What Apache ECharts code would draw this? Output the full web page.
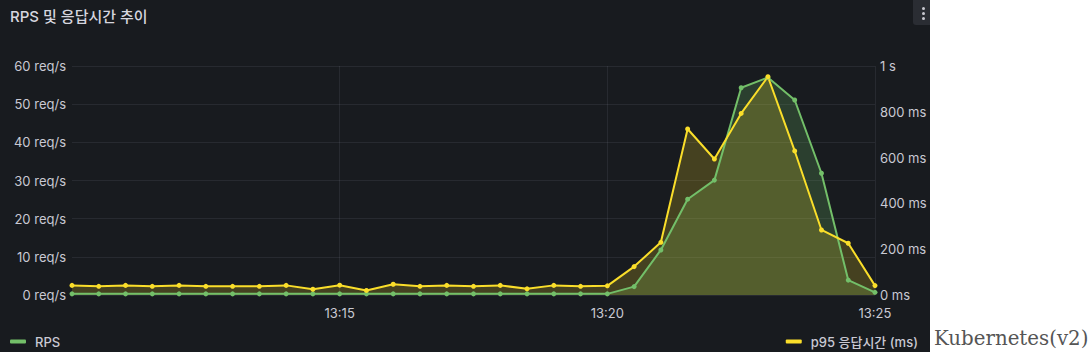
<!DOCTYPE html>
<html>
<head>
<meta charset="utf-8">
<script src="https://cdn.jsdelivr.net/npm/echarts@6/dist/echarts.min.js"></script>
<style>
  html, body { margin: 0; padding: 0; background: #ffffff; width: 1092px; height: 359px; overflow: hidden; }
  #panel { position: absolute; left: 0; top: 0; width: 930px; height: 352px; background: #181b1f; }
  #chart { position: absolute; left: 0; top: 0; width: 930px; height: 352px; }
  #menu { position: absolute; left: 913px; top: 0; width: 17px; height: 25px; background: #2a2d33; border-radius: 0 0 0 3px; }
  .dot { position: absolute; left: 9px; width: 3px; height: 3px; border-radius: 50%; background: #c8c8d0; }
  #side { position: absolute; left: 934px; top: 325px; font-family: "DejaVu Serif", serif; font-size: 19.8px; color: #555555; line-height: 28px; white-space: nowrap; }
</style>
</head>
<body>
<div id="panel"></div>
<div id="chart"></div>
<div id="menu"><div class="dot" style="top:7px"></div><div class="dot" style="top:12px"></div><div class="dot" style="top:17px"></div></div>
<div id="side">Kubernetes(v2)</div>
<script>
// ---- data ----
const title = 'RPS 및 응답시간 추이';
const seriesNames = ['RPS', 'p95 응답시간 (ms)'];
const times = [
  '13:10:00','13:10:30','13:11:00','13:11:30','13:12:00','13:12:30','13:13:00','13:13:30',
  '13:14:00','13:14:30','13:15:00','13:15:30','13:16:00','13:16:30','13:17:00','13:17:30',
  '13:18:00','13:18:30','13:19:00','13:19:30','13:20:00','13:20:30','13:21:00','13:21:30',
  '13:22:00','13:22:30','13:23:00','13:23:30','13:24:00','13:24:30','13:25:00'
];
const rps = [
  0.3,0.3,0.3,0.3,0.3,0.3,0.3,0.3,
  0.3,0.3,0.3,0.3,0.3,0.3,0.3,0.3,
  0.3,0.3,0.3,0.3,0.3,2.2,11.8,25.1,
  30.1,54.3,57.0,51.1,31.9,3.9,0.7
];
const p95ms = [
  42,38,42,38,42,38,38,38,
  42,25,43,20,47,38,42,38,
  42,27,42,38,40,124,230,725,
  594,793,953,629,284,226,41
];
const xTickLabels = ['13:15','13:20','13:25'];
const leftTicks = [0,10,20,30,40,50,60];
const rightTicks = [0,200,400,600,800,1000];

// ---- helpers ----
const baseMin = 13 * 60 + 10;
function toMin(t) { const p = t.split(':').map(Number); return p[0] * 60 + p[1] + p[2] / 60 - baseMin; }
function fmtTime(v) { const m = Math.round(v + baseMin); const h = Math.floor(m / 60), mm = m % 60; return h + ':' + String(mm).padStart(2, '0'); }
const xs = times.map(toMin);

const txt = '#c9c9d3';
const font = 'Inter, "Noto Sans CJK KR", sans-serif';
const green = '#73bf69', yellow = '#fade2a';

const chart = echarts.init(document.getElementById('chart'), null, { renderer: 'svg' });
chart.setOption({
  animation: false,
  backgroundColor: 'transparent',
  title: {
    text: title, left: 5, top: 4,
    textStyle: { color: '#d6d6df', fontSize: 15, fontWeight: 500, fontFamily: font }
  },
  legend: [
    { data: [seriesNames[0]], left: 5, top: 330, icon: 'roundRect', itemWidth: 16, itemHeight: 4, itemGap: 8,
      textStyle: { color: txt, fontSize: 13, fontWeight: 500, fontFamily: font, padding: [0, 0, 0, 4] } },
    { data: [seriesNames[1]], right: 7, top: 330, icon: 'roundRect', itemWidth: 16, itemHeight: 4, itemGap: 8,
      textStyle: { color: txt, fontSize: 13, fontWeight: 500, fontFamily: font, padding: [0, 0, 0, 4] } }
  ],
  grid: { left: 72, right: 55, top: 66, bottom: 57, containLabel: false },
  xAxis: {
    type: 'value', min: 0, max: 15, interval: 5,
    axisLine: { show: false }, axisTick: { show: false },
    axisLabel: {
      color: txt, fontSize: 13, fontFamily: font, margin: 11, showMinLabel: false,
      formatter: v => { const s = fmtTime(v); return xTickLabels.includes(s) ? s : ''; }
    },
    splitLine: { show: true, showMinLine: false, lineStyle: { color: 'rgba(204,204,220,0.09)', width: 1 } }
  },
  yAxis: [
    {
      type: 'value', min: leftTicks[0], max: leftTicks[leftTicks.length - 1], interval: 10,
      axisLine: { show: false }, axisTick: { show: false },
      axisLabel: { color: txt, fontSize: 13, fontFamily: font, margin: 6, formatter: v => v + ' req/s' },
      splitLine: { show: true, lineStyle: { color: 'rgba(204,204,220,0.09)', width: 1 } }
    },
    {
      type: 'value', min: rightTicks[0], max: rightTicks[rightTicks.length - 1], interval: 200,
      axisLine: { show: false }, axisTick: { show: false },
      axisLabel: { color: txt, fontSize: 13, fontFamily: font, margin: 5, formatter: v => v >= 1000 ? (v / 1000) + ' s' : v + ' ms' },
      splitLine: { show: false }
    }
  ],
  series: [
    {
      name: seriesNames[0], type: 'line', yAxisIndex: 0,
      data: xs.map((x, i) => [x, rps[i]]),
      symbol: 'circle', symbolSize: 5, showSymbol: true,
      lineStyle: { color: green, width: 2 }, itemStyle: { color: green },
      areaStyle: { color: green, opacity: 0.22 }
    },
    {
      name: seriesNames[1], type: 'line', yAxisIndex: 1,
      data: xs.map((x, i) => [x, p95ms[i]]),
      symbol: 'circle', symbolSize: 5, showSymbol: true,
      lineStyle: { color: yellow, width: 2 }, itemStyle: { color: yellow },
      areaStyle: { color: yellow, opacity: 0.2 }
    }
  ]
});
</script>
</body>
</html>
